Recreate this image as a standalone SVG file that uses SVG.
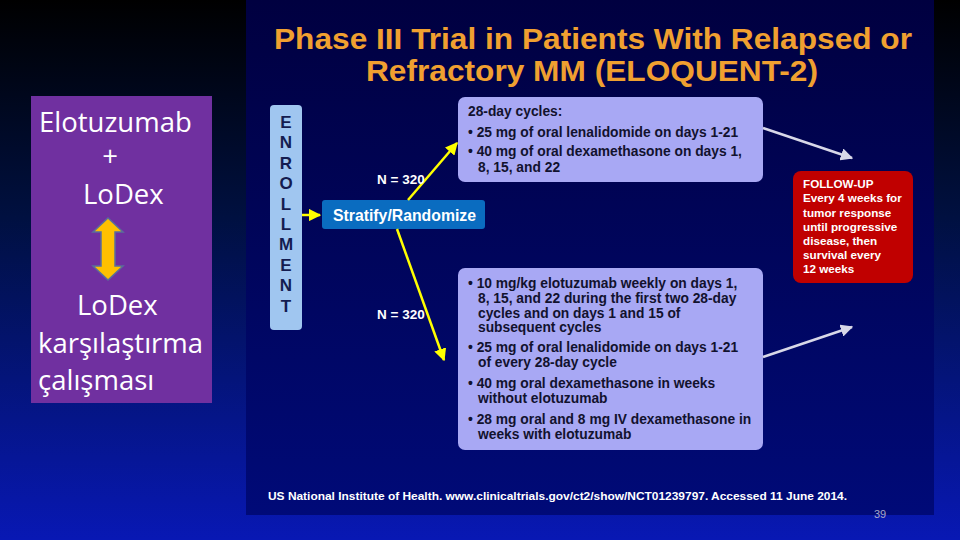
<svg xmlns="http://www.w3.org/2000/svg" width="960" height="540" viewBox="0 0 960 540">
<defs>
<linearGradient id="bgOuter" x1="0" y1="0" x2="0" y2="1">
<stop offset="0" stop-color="#000000"/>
<stop offset="0.4" stop-color="#001040"/>
<stop offset="1" stop-color="#0818b4"/>
</linearGradient>
<linearGradient id="bgInner" x1="0" y1="0" x2="0" y2="1">
<stop offset="0" stop-color="#000040"/>
<stop offset="1" stop-color="#000a78"/>
</linearGradient>
<marker id="yArrow" viewBox="0 0 10 10" refX="9" refY="5" markerWidth="5" markerHeight="5" orient="auto" markerUnits="strokeWidth">
<path d="M0,0 L10,5 L0,10 z" fill="#ffff00"/>
</marker>
<marker id="wArrow" viewBox="0 0 10 10" refX="9" refY="5" markerWidth="5" markerHeight="5" orient="auto" markerUnits="strokeWidth">
<path d="M0,0 L10,5 L0,10 z" fill="#d8d8e8"/>
</marker>
<style>
.side{font-family:"Open Sans","Liberation Sans",sans-serif;font-size:27.5px;fill:#ffffff}
.title{font-family:"Liberation Sans Narrow","Liberation Sans",Arial,sans-serif;font-weight:bold;font-size:30px;fill:#f0a030}
.enr{font-family:"Liberation Sans",Arial,sans-serif;font-weight:bold;font-size:17px;fill:#141c50}
.arm{font-family:"Liberation Sans",Arial,sans-serif;font-weight:bold;font-size:13.8px;fill:#12122e}
.fu{font-family:"Liberation Sans",Arial,sans-serif;font-weight:bold;font-size:11.7px;fill:#ffffff}
.nlab{font-family:"Liberation Sans",Arial,sans-serif;font-weight:bold;font-size:13.5px;fill:#ffffff}
.strat{font-family:"Liberation Sans",Arial,sans-serif;font-weight:bold;font-size:16.5px;fill:#ffffff}
.foot{font-family:"Liberation Sans",Arial,sans-serif;font-weight:bold;font-size:11.5px;fill:#ffffff}
.yline{stroke:#ffff00;stroke-width:2.5;fill:none}
.wline{stroke:#d8d8e8;stroke-width:2.5;fill:none}
</style>
</defs>
<rect x="0" y="0" width="960" height="540" fill="url(#bgOuter)"/>
<rect x="246" y="0" width="688" height="515" fill="url(#bgInner)"/>

<g id="side-panel">
<rect x="31" y="96" width="181" height="307" fill="#7030a0"/>
<text class="side" x="39" y="132">Elotuzumab</text>
<text class="side" x="110" y="166" text-anchor="middle">+</text>
<text class="side" x="83" y="204">LoDex</text>
<polygon points="108,218 123,232 115,232 115,266 123,266 108,280 93,266 101,266 101,232 93,232" fill="#ffc000" stroke="#5a6e9a" stroke-width="1.5"/>
<text class="side" x="77" y="315">LoDex</text>
<text class="side" x="38" y="353">karşılaştırma</text>
<text class="side" x="38" y="390">çalışması</text>
</g>

<g id="title">
<text class="title" x="593" y="49" text-anchor="middle" textLength="638" lengthAdjust="spacingAndGlyphs">Phase III Trial in Patients With Relapsed or</text>
<text class="title" x="592" y="81" text-anchor="middle" textLength="452" lengthAdjust="spacingAndGlyphs">Refractory MM (ELOQUENT-2)</text>
</g>

<g id="enrollment">
<rect x="270" y="105" width="32" height="225" rx="4" fill="#a0c6f0"/>
<text class="enr" x="286" y="128" text-anchor="middle">E</text>
<text class="enr" x="286" y="148.4" text-anchor="middle">N</text>
<text class="enr" x="286" y="168.8" text-anchor="middle">R</text>
<text class="enr" x="286" y="189.2" text-anchor="middle">O</text>
<text class="enr" x="286" y="209.6" text-anchor="middle">L</text>
<text class="enr" x="286" y="230" text-anchor="middle">L</text>
<text class="enr" x="286" y="250.4" text-anchor="middle">M</text>
<text class="enr" x="286" y="270.8" text-anchor="middle">E</text>
<text class="enr" x="286" y="291.2" text-anchor="middle">N</text>
<text class="enr" x="286" y="311.6" text-anchor="middle">T</text>
</g>

<g id="stratify">
<rect x="322" y="200" width="163" height="29" rx="3" fill="#0a6cc0"/>
<text class="strat" x="333" y="221" textLength="143" lengthAdjust="spacingAndGlyphs">Stratify/Randomize</text>
</g>

<g id="arm1">
<rect x="458" y="97" width="305" height="85" rx="7" fill="#a8a8f4"/>
<text class="arm" x="468" y="116">28-day cycles:</text>
<text class="arm" x="468" y="137">• 25 mg of oral lenalidomide on days 1-21</text>
<text class="arm" x="468" y="156">• 40 mg of oral dexamethasone on days 1,</text>
<text class="arm" x="478" y="172">8, 15, and 22</text>
</g>

<g id="arm2">
<rect x="458" y="268" width="305" height="182" rx="7" fill="#a8a8f4"/>
<text class="arm" x="468" y="288">• 10 mg/kg elotuzumab weekly on days 1,</text>
<text class="arm" x="478" y="303">8, 15, and 22 during the first two 28-day</text>
<text class="arm" x="478" y="318">cycles and on days 1 and 15 of</text>
<text class="arm" x="478" y="332">subsequent cycles</text>
<text class="arm" x="468" y="352">• 25 mg of oral lenalidomide on days 1-21</text>
<text class="arm" x="478" y="367">of every 28-day cycle</text>
<text class="arm" x="468" y="388">• 40 mg oral dexamethasone in weeks</text>
<text class="arm" x="478" y="403">without elotuzumab</text>
<text class="arm" x="468" y="424">• 28 mg oral and 8 mg IV dexamethasone in</text>
<text class="arm" x="478" y="439">weeks with elotuzumab</text>
</g>

<g id="followup">
<rect x="793" y="171" width="120" height="112" rx="8" fill="#c00000"/>
<text class="fu" x="803" y="188">FOLLOW-UP</text>
<text class="fu" x="803" y="202">Every 4 weeks for</text>
<text class="fu" x="803" y="216.5">tumor response</text>
<text class="fu" x="803" y="231">until progressive</text>
<text class="fu" x="803" y="245">disease, then</text>
<text class="fu" x="803" y="259">survival every</text>
<text class="fu" x="803" y="273">12 weeks</text>
</g>

<g id="connectors">
<line class="yline" x1="302" y1="215" x2="320" y2="215" marker-end="url(#yArrow)"/>
<line class="yline" x1="408" y1="200" x2="457" y2="143" marker-end="url(#yArrow)"/>
<line class="yline" x1="397" y1="229" x2="444" y2="360" marker-end="url(#yArrow)"/>
<line class="wline" x1="763" y1="128" x2="852" y2="158" marker-end="url(#wArrow)"/>
<line class="wline" x1="763" y1="357" x2="852" y2="327" marker-end="url(#wArrow)"/>
</g>

<g id="labels">
<text class="nlab" x="377" y="184">N = 320</text>
<text class="nlab" x="377" y="319">N = 320</text>
<text class="foot" x="268" y="500" textLength="579" lengthAdjust="spacingAndGlyphs">US National Institute of Health. www.clinicaltrials.gov/ct2/show/NCT01239797. Accessed 11 June 2014.</text>
<text x="874" y="518" font-family="Liberation Sans, Arial, sans-serif" font-size="11px" fill="#a8a8c8">39</text>
</g>
</svg>
